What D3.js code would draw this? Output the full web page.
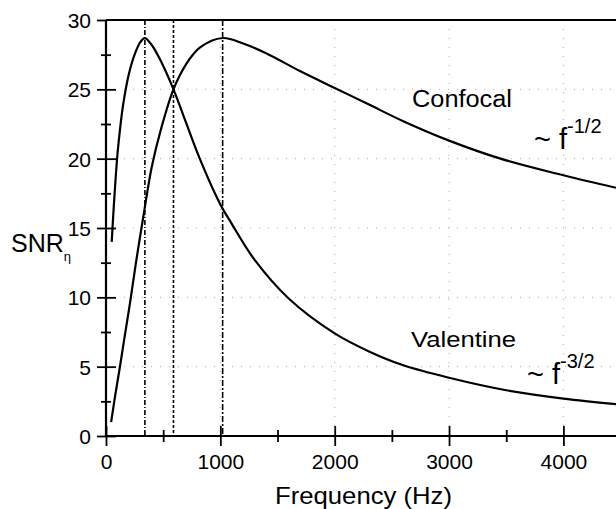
<!DOCTYPE html>
<html>
<head>
<meta charset="utf-8">
<script src="https://cdn.jsdelivr.net/npm/d3@7"></script>
<style>
  body { margin: 0; background: #fff; }
  text { font-family: "Liberation Sans", Arial, sans-serif; fill: #000; }
</style>
</head>
<body>
<svg id="chart" width="616" height="509"></svg>
<script>
// values
const valFreq = [50, 70, 100, 125, 150, 200, 250, 300, 340, 400, 470, 590, 700, 820, 1000, 1100, 1300, 1600, 2000, 2300, 2600, 3000, 3500, 4000, 4460]
const valentine = [14.0, 16.8, 20.3, 22.3, 23.9, 26.1, 27.5, 28.4, 28.7, 28.2, 27.2, 25.0, 22.6, 20.0, 16.7, 15.3, 12.7, 9.9, 7.4, 6.1, 5.1, 4.2, 3.3, 2.7, 2.3]
const conFreq = [45, 80, 120, 160, 210, 260, 330, 400, 480, 590, 700, 820, 1020, 1200, 1400, 1700, 2000, 2300, 2600, 3000, 3450, 4000, 4460]
const confocal = [1.0, 2.9, 4.9, 7.0, 9.6, 12.4, 16.0, 19.4, 22.1, 25.0, 26.8, 28.0, 28.7, 28.3, 27.6, 26.3, 25.1, 23.9, 22.7, 21.3, 20.0, 18.8, 17.9]
const markers = [340, 590, 1020]
const markerDash = ["5,2,1,2", "3,2", "6,2,2,2"]
const xTicks = [0, 1000, 2000, 3000, 4000]
const yTicks = [0, 5, 10, 15, 20, 25, 30]

const svg = d3.select("#chart")
const mLeft = 106, mRight = 616, mTop = 20, mBottom = 436

const x = d3.scaleLinear().domain([0, 4460]).range([mLeft, mRight])
const y = d3.scaleLinear().domain([0, 30]).range([mBottom, mTop])

// faint dotted grid
svg.append("g").selectAll("line").data(yTicks.slice(1, -1)).enter().append("line")
  .attr("x1", mLeft).attr("x2", mRight)
  .attr("y1", d => y(d)).attr("y2", d => y(d))
  .attr("stroke", "#aaa").attr("stroke-width", 1).attr("stroke-dasharray", "1,8")
svg.append("g").selectAll("line").data(xTicks.slice(1)).enter().append("line")
  .attr("y1", mTop).attr("y2", mBottom)
  .attr("x1", d => x(d)).attr("x2", d => x(d))
  .attr("stroke", "#aaa").attr("stroke-width", 1).attr("stroke-dasharray", "1,8")

// vertical marker lines at the peaks / crossing
svg.append("g").selectAll("line").data(markers).enter().append("line")
  .attr("x1", d => x(d)).attr("x2", d => x(d))
  .attr("y1", y(30)).attr("y2", y(0))
  .attr("stroke", "#000").attr("stroke-width", 1.6)
  .attr("stroke-dasharray", (d, i) => markerDash[i])

// axes: major ticks cross the line, minor ticks are short
const yAxis = svg.append("g").attr("transform", "translate(" + mLeft + ",0)")
  .call(d3.axisLeft(y).tickValues(yTicks).tickSize(9).tickPadding(6))
const yMinor = svg.append("g").attr("transform", "translate(" + (mLeft + 5) + ",0)")
  .call(d3.axisLeft(y).tickValues(d3.range(2.5, 30, 5)).tickSize(10).tickFormat(""))
const yInner = svg.append("g").attr("transform", "translate(" + (mLeft + 10) + ",0)")
  .call(d3.axisLeft(y).tickValues(yTicks.slice(0, -1)).tickSize(10).tickFormat(""))

const xAxis = svg.append("g").attr("transform", "translate(0," + mBottom + ")")
  .call(d3.axisBottom(x).tickValues(xTicks).tickSize(10).tickPadding(8).tickFormat(d3.format("d")))
const xInner = svg.append("g").attr("transform", "translate(0," + (mBottom - 10) + ")")
  .call(d3.axisBottom(x).tickValues(xTicks).tickSize(10).tickFormat(""))
const xMinor = svg.append("g").attr("transform", "translate(0," + (mBottom - 6) + ")")
  .call(d3.axisBottom(x).tickValues(d3.range(500, 4460, 1000)).tickSize(12).tickFormat(""))

svg.selectAll(".domain").attr("stroke", "none")
svg.selectAll(".tick line").attr("stroke", "#000").attr("stroke-width", 1.8)
svg.selectAll(".tick text").style("font-size", "21px").style("font-family", "Liberation Sans, Arial, sans-serif")
yAxis.selectAll(".tick text").attr("dy", "0.36em")

// axis lines + top frame
svg.append("line").attr("x1", mLeft).attr("x2", mLeft).attr("y1", mTop).attr("y2", mBottom)
  .attr("stroke", "#000").attr("stroke-width", 2.2)
svg.append("line").attr("x1", mLeft).attr("x2", mRight).attr("y1", mBottom).attr("y2", mBottom)
  .attr("stroke", "#000").attr("stroke-width", 2.2)
svg.append("line").attr("x1", mLeft).attr("x2", mRight).attr("y1", mTop).attr("y2", mTop)
  .attr("stroke", "#000").attr("stroke-width", 1.8)

// the two curves
const line = d3.line().x(d => x(d[0])).y(d => y(d[1])).curve(d3.curveCatmullRom.alpha(0.5))
svg.append("path").datum(d3.zip(valFreq, valentine)).attr("d", line)
  .attr("fill", "none").attr("stroke", "#000").attr("stroke-width", 2.2)
svg.append("path").datum(d3.zip(conFreq, confocal)).attr("d", line)
  .attr("fill", "none").attr("stroke", "#000").attr("stroke-width", 2.2)

// labels
svg.append("text").attr("x", 412).attr("y", 107).style("font-size", "23px")
  .attr("textLength", 100).attr("lengthAdjust", "spacingAndGlyphs").text("Confocal")
svg.append("text").attr("x", 411).attr("y", 347).style("font-size", "22px")
  .attr("textLength", 105).attr("lengthAdjust", "spacingAndGlyphs").text("Valentine")

const p1 = svg.append("text").attr("x", 534).attr("y", 149).style("font-size", "29px")
p1.append("tspan").text("~ f")
p1.append("tspan").attr("dy", -16).style("font-size", "20px").text("-1/2")
const p2 = svg.append("text").attr("x", 527).attr("y", 384).style("font-size", "29px")
p2.append("tspan").text("~ f")
p2.append("tspan").attr("dy", -16).style("font-size", "20px").text("-3/2")

svg.append("text").attr("x", 275).attr("y", 504).style("font-size", "24px")
  .attr("textLength", 177).attr("lengthAdjust", "spacingAndGlyphs").text("Frequency (Hz)")

const snr = svg.append("text").attr("x", 11).attr("y", 252).style("font-size", "25px")
snr.append("tspan").text("SNR")
snr.append("tspan").attr("dx", 0).attr("dy", 9).style("font-size", "13px").text("η")
</script>
</body>
</html>
